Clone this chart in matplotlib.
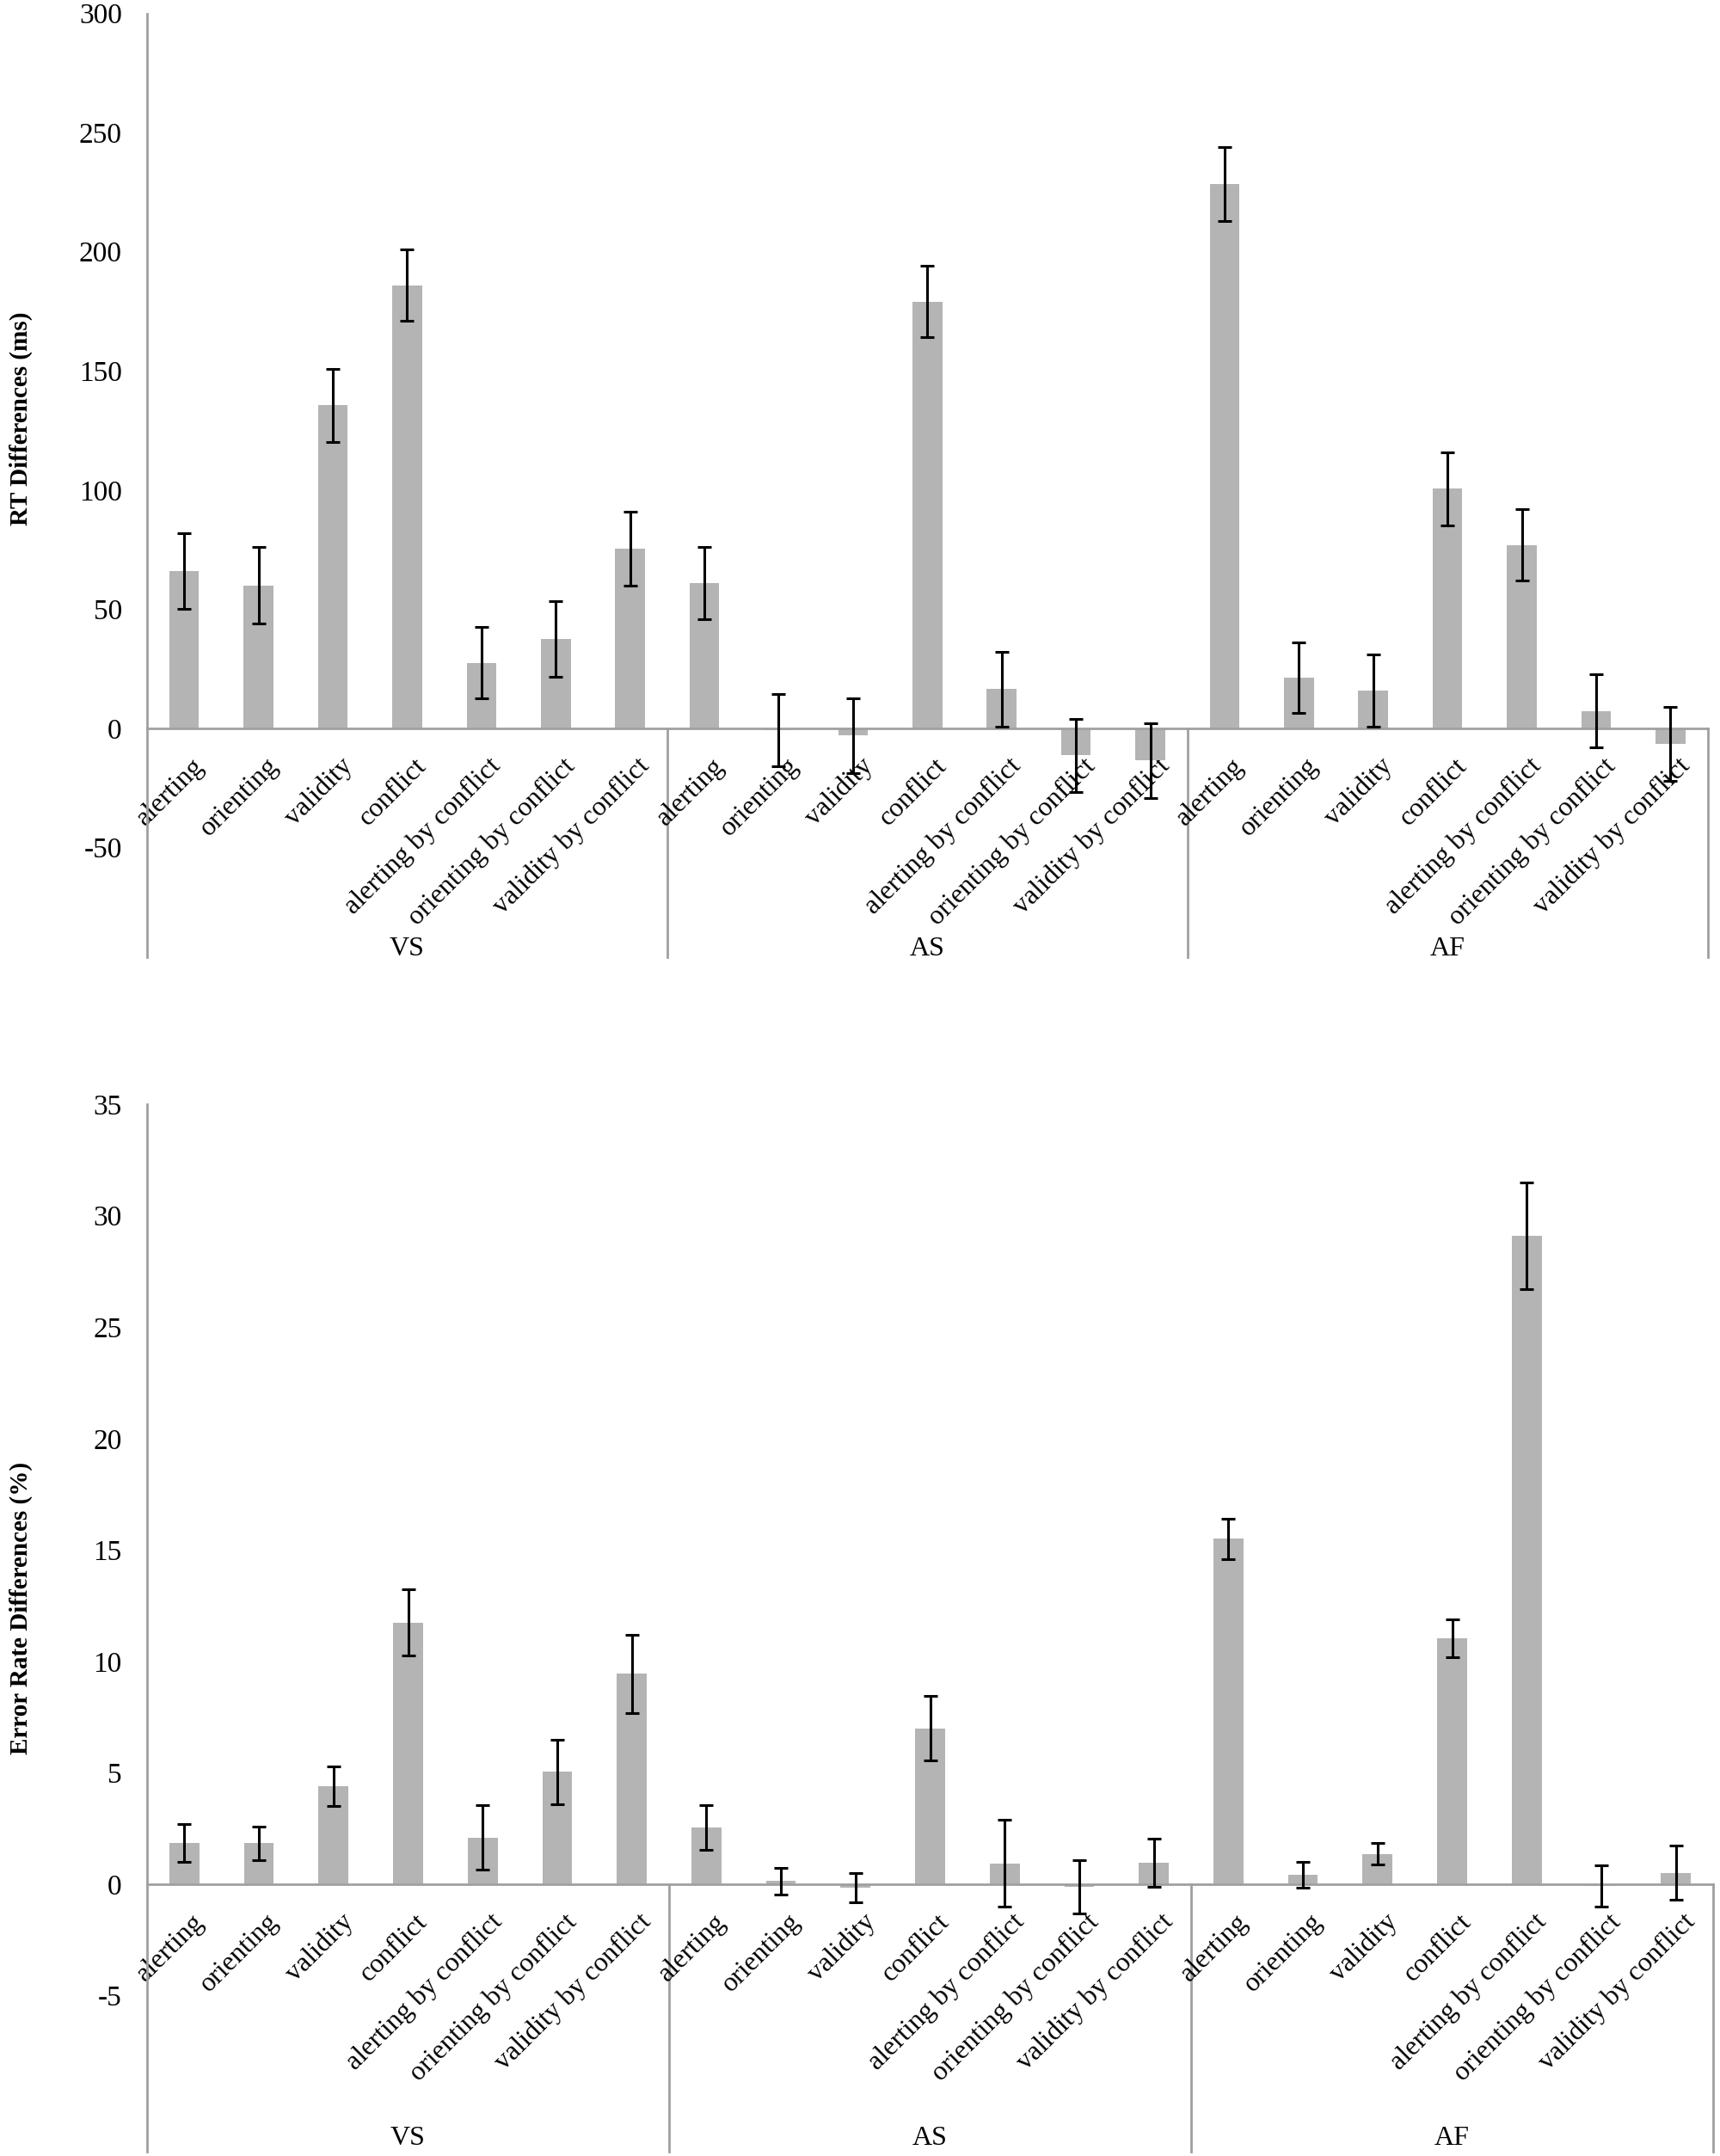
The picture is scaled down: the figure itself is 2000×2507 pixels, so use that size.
import numpy as np
import matplotlib
matplotlib.use("Agg")
import matplotlib.pyplot as plt
import matplotlib.transforms as mtransforms

plt.rcParams['font.family'] = ['Liberation Serif', 'DejaVu Serif']

cats = ['alerting', 'orienting', 'validity', 'conflict',
        'alerting by conflict', 'orienting by conflict', 'validity by conflict']
groups = ['VS', 'AS', 'AF']

# RT differences (ms)
rt_vs = [66, 60, 135.5, 186, 27.5, 37.5, 75.5]
rt_vs_err = [16, 16, 15.5, 15, 15, 16, 15.5]
rt_as = [61, -0.7, -3, 179, 16.5, -11.3, -13.5]
rt_as_err = [15, 15, 15.6, 15, 15.7, 15.3, 15.6]
rt_af = [228.5, 21.3, 16, 100.5, 77, 7.3, -6.5]
rt_af_err = [15.5, 14.8, 15.2, 15.5, 15, 15.3, 15.6]

# error rate differences (%)
er_vs = [1.85, 1.85, 4.4, 11.75, 2.1, 5.05, 9.45]
er_vs_err = [0.85, 0.75, 0.9, 1.5, 1.45, 1.45, 1.75]
er_as = [2.55, 0.15, -0.15, 7.0, 0.93, -0.1, 0.97]
er_as_err = [1.0, 0.6, 0.65, 1.45, 1.95, 1.2, 1.09]
er_af = [15.5, 0.41, 1.37, 11.05, 29.1, -0.07, 0.52]
er_af_err = [0.9, 0.58, 0.48, 0.85, 2.4, 0.93, 1.2]

BAR = '#b4b4b4'
AXC = '#a0a0a0'
FS = 23


def draw(ax, vals, errs, ylim, yticks, grp_y):
    x = np.arange(len(vals))
    ax.bar(x, vals, width=0.4, color=BAR, zorder=2)
    ax.errorbar(x, vals, yerr=errs, fmt='none', ecolor='black',
                elinewidth=2.2, capsize=6, capthick=2.2, zorder=3)
    ax.set_xlim(-0.5, len(vals) - 0.5)
    ax.set_ylim(*ylim)
    ax.set_yticks(yticks)
    ax.set_yticklabels([str(t) for t in yticks], fontsize=24)

    for s in ['top', 'right']:
        ax.spines[s].set_visible(False)
    ax.spines['left'].set_color(AXC)
    ax.spines['left'].set_linewidth(2)
    ax.spines['bottom'].set_position(('data', 0))
    ax.spines['bottom'].set_color(AXC)
    ax.spines['bottom'].set_linewidth(2)
    ax.tick_params(axis='y', length=0, pad=21)
    ax.tick_params(axis='x', length=0, pad=21)

    ax.set_xticks(x)
    ax.set_xticklabels(cats * 3, rotation=45, ha='right', va='top',
                       rotation_mode='anchor', fontsize=FS)
    off = mtransforms.ScaledTranslation(8 / 100, 0, ax.figure.dpi_scale_trans)
    for lbl in ax.get_xticklabels():
        lbl.set_transform(lbl.get_transform() + off)

    # group separators and group names
    n = len(cats)
    for k in range(1, len(groups) + 1):
        ax.plot([k * n - 0.5, k * n - 0.5], [0, ylim[0]], color=AXC, lw=2,
                clip_on=False, zorder=1)
    for k, g in enumerate(groups):
        ax.text(k * n + (n - 1) / 2, grp_y, g, ha='center', va='center',
                fontsize=FS)
    return ax


fig = plt.figure(figsize=(20, 25.07), dpi=100)

ax1 = fig.add_axes([0.0855, 0.556, 0.9073, 0.4378])
draw(ax1, rt_vs + rt_as + rt_af, rt_vs_err + rt_as_err + rt_af_err,
     (-96, 300), list(range(-50, 301, 50)), -92.5)
fig.text(0.012, 0.806, 'RT Differences (ms)', rotation=90, ha='center',
         va='center', fontsize=21, fontweight='bold')

ax2 = fig.add_axes([0.0855, 0.002, 0.9105, 0.4858])
draw(ax2, er_vs + er_as + er_af, er_vs_err + er_as_err + er_af_err,
     (-12, 35), list(range(-5, 36, 5)), -11.4)
fig.text(0.012, 0.254, 'Error Rate Differences (%)', rotation=90, ha='center',
         va='center', fontsize=21, fontweight='bold')

fig.savefig('out.png', dpi=100)
